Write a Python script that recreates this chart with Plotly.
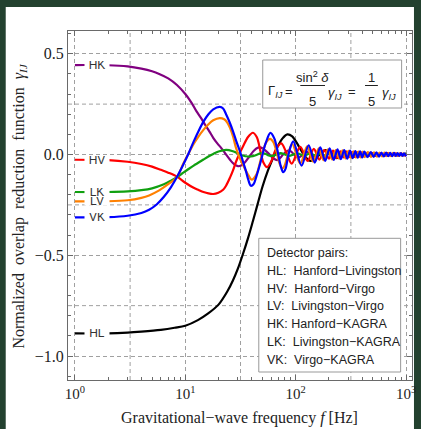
import plotly.graph_objects as go

# ---------------- data (frequency [Hz], normalized ORF) ----------------
HL = [(1, -0.888), (2, -0.888), (3, -0.884), (4, -0.879), (6, -0.870), (8, -0.860), (10, -0.850),
      (13, -0.822), (16, -0.790), (20, -0.745), (24, -0.680), (27, -0.625), (30, -0.565), (33, -0.500),
      (37, -0.415), (41, -0.330), (45, -0.250), (50, -0.160), (56, -0.080), (62, -0.020), (68, 0.035),
      (76, 0.080), (84, 0.100), (93, 0.090), (103, 0.055), (115, 0.010), (127, -0.022), (136, -0.032),
      (150, -0.022), (165, 0.000), (185, 0.022), (210, 0.005), (235, -0.018), (260, 0.000), (285, 0.015),
      (335, -0.012), (385, 0.010), (435, -0.009), (485, 0.008), (535, -0.007), (585, 0.007), (635, -0.006),
      (685, 0.006), (735, -0.005), (785, 0.005), (835, -0.005), (885, 0.004), (935, -0.004), (985, 0.004),
      (1000, 0.003)]

HV = [(1, -0.026), (2, -0.028), (3, -0.036), (4, -0.047), (5, -0.060), (6, -0.076), (7, -0.090),
      (8.4, -0.110), (10, -0.140), (11.9, -0.165), (13.2, -0.176), (14.6, -0.186), (16.2, -0.193),
      (17.9, -0.196), (19.9, -0.190), (22, -0.175), (23.4, -0.155), (25.4, -0.115), (27.1, -0.078),
      (28.8, -0.036), (31, 0.005), (33.3, 0.040), (37, 0.087), (41, 0.108), (44.5, 0.085), (48, 0.015),
      (51, -0.040), (55, -0.063), (60, -0.035), (66, 0.025), (74, 0.055), (83, 0.005), (92, -0.045),
      (110, 0.038), (128, -0.032), (146, 0.028), (164, -0.025), (182, 0.022), (200, -0.020), (218, 0.019),
      (236, -0.017), (254, 0.016), (272, -0.015), (290, 0.014), (308, -0.0135), (326, 0.013), (344, -0.012),
      (362, 0.0115), (380, -0.011), (398, 0.0105), (416, -0.010), (446, 0.0095), (476, -0.009),
      (506, 0.0085), (546, -0.008), (586, 0.0075), (626, -0.007), (676, 0.0065), (726, -0.006),
      (786, 0.0055), (846, -0.005), (906, 0.0045), (966, -0.004), (1000, 0.0)]

LV = [(1, -0.233), (2, -0.232), (3, -0.227), (4, -0.215), (4.7, -0.203), (5.8, -0.178), (7.1, -0.145),
      (8.4, -0.112), (9.6, -0.045), (10.7, 0.005), (11.9, 0.052), (13.2, 0.090), (14.6, 0.122),
      (16.2, 0.150), (17.9, 0.170), (20.5, 0.181), (22.5, 0.175), (24, 0.158), (25.4, 0.132),
      (27.1, 0.088), (28.8, 0.033), (31, -0.015), (33.3, -0.052), (37, -0.100), (40, -0.125),
      (44, -0.100), (49, -0.010), (54, 0.060), (58.5, 0.078), (63, 0.060), (68, 0.000), (72, -0.050),
      (76, -0.070), (80, -0.050), (85, 0.000), (93, 0.052), (110, -0.045), (127, 0.040), (144, -0.035),
      (162, 0.031), (179, -0.028), (196, 0.026), (214, -0.024), (231, 0.022), (248, -0.021), (266, 0.020),
      (283, -0.019), (300, 0.018), (318, -0.017), (335, 0.016), (352, -0.015), (370, 0.015), (387, -0.014),
      (404, 0.014), (421, -0.013), (452, 0.012), (483, -0.012), (514, 0.011), (545, -0.0105), (576, 0.010),
      (607, -0.0095), (638, 0.009), (669, -0.0087), (700, 0.0083), (731, -0.008), (762, 0.0077),
      (793, -0.0074), (824, 0.0071), (855, -0.0069), (886, 0.0067), (917, -0.0065), (948, 0.0063),
      (979, -0.0061), (1000, 0.0)]

HK = [(1, 0.444), (2, 0.443), (3, 0.437), (4, 0.426), (5, 0.413), (5.8, 0.400), (7, 0.378), (8.4, 0.345),
      (10, 0.300), (11.4, 0.256), (12.6, 0.215), (14, 0.178), (15.2, 0.145), (16.5, 0.115), (17.9, 0.083),
      (19.5, 0.055), (21.1, 0.033), (23, 0.005), (25.4, -0.026), (27.5, -0.047), (30, -0.058),
      (32, -0.055), (34.6, -0.040), (37.5, -0.015), (40.9, 0.013), (44, 0.030), (48, 0.035), (53, 0.020),
      (58, 0.000), (63, -0.020), (68, -0.028), (73, -0.015), (77, 0.000), (87, 0.020), (106, -0.016),
      (125, 0.014), (144, -0.012), (163, 0.011), (182, -0.0095), (201, 0.009), (220, -0.008),
      (239, 0.0075), (258, -0.007), (277, 0.0065), (296, -0.006), (330, 0.0055), (370, -0.005),
      (420, 0.0045), (480, -0.004), (560, 0.0035), (650, -0.003), (760, 0.0025), (880, -0.002),
      (1000, 0.0)]

LK = [(1, -0.186), (2, -0.186), (3, -0.183), (4, -0.177), (5, -0.168), (6.4, -0.148), (7.4, -0.130),
      (8.4, -0.112), (9.6, -0.090), (10.7, -0.072), (11.9, -0.055), (13.2, -0.040), (14.6, -0.025),
      (16.2, -0.010), (17.9, 0.003), (20, 0.015), (23.4, 0.023), (27, 0.016), (30, 0.005), (33, -0.005),
      (37, -0.010), (41, -0.008), (45, 0.000), (48.5, 0.007), (53, 0.004), (57, -0.005), (62, -0.007),
      (67, 0.000), (73, 0.007), (80, 0.000), (87, -0.007), (103, 0.006), (119, -0.006), (135, 0.005),
      (151, -0.005), (167, 0.005), (183, -0.004), (199, 0.004), (215, -0.004), (231, 0.004),
      (247, -0.003), (263, 0.003), (279, -0.003), (295, 0.003), (330, -0.003), (380, 0.002),
      (430, -0.002), (500, 0.002), (600, -0.001), (700, 0.001), (850, -0.001), (1000, 0.0)]

VK = [(1, -0.312), (2, -0.311), (3, -0.304), (4, -0.290), (4.7, -0.274), (5.5, -0.248), (6.4, -0.210),
      (7.4, -0.163), (8.4, -0.112), (9.6, -0.050), (10.7, 0.005), (11.9, 0.064), (13.2, 0.117),
      (14.6, 0.163), (16.2, 0.200), (17.9, 0.224), (20.5, 0.236), (22, 0.228), (23.4, 0.200),
      (25.2, 0.160), (27.1, 0.114), (29, 0.065), (31.3, 0.015), (33.3, -0.035), (35.5, -0.084),
      (37.2, -0.125), (39.2, -0.155), (41.5, -0.148), (44, -0.110), (48.5, -0.030), (53, 0.050),
      (59, 0.107), (64, 0.080), (69, 0.010), (73, -0.055), (77, -0.088), (81, -0.070), (86, 0.000),
      (95, 0.065), (113, -0.055), (131, 0.046), (149, -0.040), (167, 0.036), (185, -0.032), (203, 0.030),
      (221, -0.027), (239, 0.025), (257, -0.023), (275, 0.022), (293, -0.021), (311, 0.019),
      (329, -0.018), (347, 0.017), (365, -0.016), (383, 0.016), (401, -0.015), (419, 0.014),
      (449, -0.013), (479, 0.0125), (509, -0.012), (539, 0.011), (569, -0.0105), (599, 0.010),
      (629, -0.0095), (659, 0.009), (689, -0.0087), (719, 0.0083), (749, -0.008), (779, 0.0077),
      (809, -0.0074), (839, 0.0072), (869, -0.007), (899, 0.0067), (929, -0.0065), (959, 0.0063),
      (989, -0.006), (1000, 0.0)]

series_names = ["HL", "HK", "HV", "LK", "LV", "VK"]
series_data = {"HL": HL, "HV": HV, "LV": LV, "HK": HK, "LK": LK, "VK": VK}
series_colors = {"HL": "#000000", "HV": "#ff0000", "LV": "#ff8000", "HK": "#800080",
                 "LK": "#10a010", "VK": "#0000ff"}

x_tick_vals = [1, 10, 100, 1000]
x_tick_text = ["10<sup>0</sup>", "10<sup>1</sup>", "10<sup>2</sup>", "10<sup>3</sup>"]
y_tick_vals = [-1.0, -0.5, 0.0, 0.5]
y_tick_text = ["\u22121.0", "\u22120.5", "0.0", "0.5"]

legend_lines = ["Detector pairs:", "HL:  Hanford\u2212Livingston", "HV:  Hanford\u2212Virgo",
                "LV:  Livingston\u2212Virgo", "HK: Hanford\u2212KAGRA", "LK:  Livingston\u2212KAGRA",
                "VK:  Virgo\u2212KAGRA"]

# ---------------- figure ----------------
W, H = 421, 429
ML, MR, MT, MB = 68, 5, 31, 49
PW, PH = W - ML - MR, H - MT - MB


def px(xp):
    return (xp - ML) / PW


def py(yp):
    return (H - MB - yp) / PH


AX = "#6a6a6a"
GRID = "#a0a0a0"
DASH = "4px,3px"
SANS = "Liberation Sans, Arial, sans-serif"
SERIF = "Liberation Serif, Times New Roman, serif"

fig = go.Figure()
for name in series_names:
    f, g = zip(*series_data[name])
    fig.add_trace(go.Scatter(x=list(f), y=list(g), mode="lines", name=name, showlegend=False,
                             hoverinfo="skip",
                             line=dict(color=series_colors[name], width=2.2, shape="spline",
                                       smoothing=0.9)))

minor_x = [m * 10 ** k for k in range(3) for m in range(2, 10)]
minor_y = [round(-1.1 + 0.1 * i, 1) for i in range(18)]
minor_y = [v for v in minor_y if v not in (-1.0, -0.5, 0.0, 0.5)]

fig.update_xaxes(type="log", range=[-0.0627, 3.0537], tickvals=x_tick_vals, ticktext=x_tick_text,
                 ticks="inside", ticklen=5, tickcolor=AX, showline=True, linecolor=AX, linewidth=1,
                 mirror="allticks", showgrid=True, gridcolor=GRID, griddash=DASH, gridwidth=1,
                 zeroline=False, tickfont=dict(family=SERIF, size=15, color="#222"),
                 minor=dict(tickmode="array", tickvals=minor_x, ticks="inside", ticklen=3,
                            tickcolor=AX, showgrid=False))
fig.update_yaxes(range=[-1.1191, 0.6129], tickvals=y_tick_vals, ticktext=y_tick_text,
                 ticks="inside", ticklen=5, tickcolor=AX, showline=True, linecolor=AX, linewidth=1,
                 mirror="allticks", showgrid=True, gridcolor=GRID, griddash=DASH, gridwidth=1,
                 zeroline=False, tickfont=dict(family=SERIF, size=16, color="#222"),
                 minor=dict(tickmode="array", tickvals=minor_y, ticks="inside", ticklen=3,
                            tickcolor=AX, showgrid=False))

shapes = []
# white page on dark green frame
shapes.append(dict(type="rect", xref="paper", yref="paper", x0=px(5), x1=px(418), y0=py(435), y1=py(7),
                   fillcolor="white", line=dict(width=0), layer="below"))
# half-decade / quarter grid lines
for xv in [10 ** 0.5, 10 ** 1.5, 10 ** 2.5]:
    shapes.append(dict(type="line", xref="x", yref="paper", x0=xv, x1=xv, y0=0, y1=1,
                       line=dict(color=GRID, width=1, dash=DASH), layer="below"))
for yv in [0.25, -0.25, -0.75]:
    shapes.append(dict(type="line", xref="paper", yref="y", x0=0, x1=1, y0=yv, y1=yv,
                       line=dict(color=GRID, width=1, dash=DASH), layer="below"))
# formula box
shapes.append(dict(type="rect", xref="paper", yref="paper", x0=px(265), x1=px(405.5), y0=py(108),
                   y1=py(60), fillcolor="white", line=dict(color="#999", width=1), layer="above"))
# legend box
shapes.append(dict(type="rect", xref="paper", yref="paper", x0=px(261), x1=px(404.5), y0=py(372),
                   y1=py(238.3), fillcolor="white", line=dict(color="#999", width=1), layer="above"))
# fraction bars
for x0, x1 in [(303, 328), (368.5, 381.5)]:
    shapes.append(dict(type="line", xref="paper", yref="paper", x0=px(x0), x1=px(x1), y0=py(85.5),
                       y1=py(85.5), line=dict(color="#222", width=1), layer="above"))

ann = []
# curve labels with white background
for name in series_names:
    ann.append(dict(x=px(97.5), xref="paper", y=series_data[name][0][1], yref="y", text=name,
                    showarrow=False, xanchor="center", yanchor="middle", bgcolor="white",
                    width=24, height=8, borderpad=0,
                    font=dict(family=SANS, size=12, color="#333")))
# legend lines
for i, t in enumerate(legend_lines):
    ann.append(dict(x=px(267.5), xref="paper", y=py(252.7 + 17.9 * i), yref="paper", text=t,
                    showarrow=False, xanchor="left", yanchor="middle",
                    font=dict(family=SANS, size=12.5, color="#222")))
# formula pieces
FF = dict(family=SANS, size=13, color="#222")
pieces = [
    (278, 91.5, "\u0393<sub><i>IJ</i></sub>"),
    (292, 91, "="),
    (315.5, 77, "sin<sup>2</sup> <i>\u03b4</i>"),
    (315.5, 101.5, "5"),
    (338.5, 93, "<i>\u03b3</i><sub><i>IJ</i></sub>"),
    (355, 91, "="),
    (375, 77.5, "1"),
    (375, 101.5, "5"),
    (393, 93, "<i>\u03b3</i><sub><i>IJ</i></sub>"),
]
for xp_, yp_, t in pieces:
    ann.append(dict(x=px(xp_), xref="paper", y=py(yp_), yref="paper", text=t, showarrow=False,
                    xanchor="center", yanchor="middle", font=FF))
# axis titles
ann.append(dict(x=px(241), xref="paper", y=py(418), yref="paper",
                text="Gravitational\u2212wave frequency <i>f</i> [Hz]", showarrow=False,
                xanchor="center", yanchor="middle", font=dict(family=SERIF, size=16, color="#222")))
ann.append(dict(x=px(18), xref="paper", y=py(206), yref="paper",
                text="Normalized\u2002overlap\u2002reduction\u2002function\u2002<i>\u03b3</i><sub><i>IJ</i></sub>",
                showarrow=False, textangle=-90, xanchor="center", yanchor="middle",
                font=dict(family=SERIF, size=16, color="#222")))

fig.update_layout(width=W, height=H, autosize=False, margin=dict(l=ML, r=MR, t=MT, b=MB),
                  paper_bgcolor="#23412f", plot_bgcolor="white",
                  shapes=shapes, annotations=ann, showlegend=False)

fig.write_html("out.html", config={"responsive": False, "displayModeBar": False},
               post_script="document.body.style.margin='0';document.body.style.overflow='hidden';")
